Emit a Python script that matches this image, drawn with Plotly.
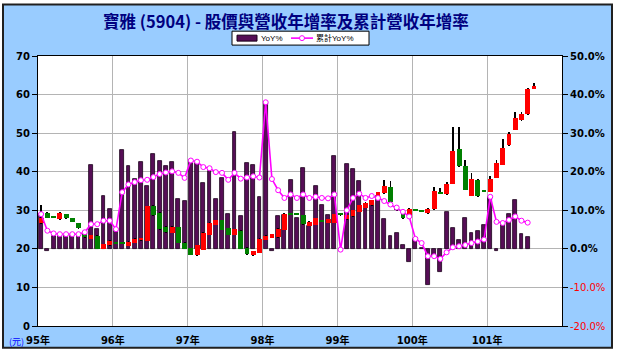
import plotly.graph_objects as go

# ---------------- data ----------------
years = ["95年", "96年", "97年", "98年", "99年", "100年", "101年"]
year_starts = [0, 12, 24, 36, 48, 60, 72]

# monthly revenue YoY (%), 95/01 .. 101/07
yoy = [9.0, -0.5, 3.3, 3.5, 3.5, 3.3, 3.6, 4.0, 21.8, 5.1, 13.7, 10.3,
       5.1, 25.6, 21.4, 18.1, 22.6, 16.4, 24.6, 22.8, 21.4, 22.4, 12.8, 12.3,
       23.1, 22.2, 17.1, 20.3, 13.0, 18.5, 9.0, 30.3, 8.5, 22.2, 21.8, 13.5,
       37.8, -0.5, 8.5, 8.7, 17.9, 7.9, 20.9, 6.0, 16.4, 11.5, 8.7, 24.1,
       -0.2, 22.0, 20.7, 17.5, 11.5, 11.8, 13.7, 7.7, 3.4, 4.1, 1.0, -3.4,
       2.6, 0.2, -9.4, -2.2, -6.0, 9.5, 5.5, 2.2, 7.9, 4.1, 4.7, 6.1,
       13.5, -0.5, 6.5, 9.0, 12.6, 3.8, 3.1]

# cumulative revenue YoY (%)
cum_yoy = [9.0, 4.7, 4.0, 3.8, 3.8, 3.8, 3.8, 4.3, 6.4, 6.4, 7.3, 7.3,
           5.1, 14.7, 16.7, 17.3, 17.8, 17.9, 18.6, 19.4, 19.8, 20.1, 19.7, 18.4,
           22.9, 22.6, 21.2, 20.9, 19.9, 19.7, 17.9, 19.7, 18.2, 18.5, 18.8, 18.5,
           38.0, 18.1, 15.2, 13.2, 14.1, 13.2, 14.1, 13.2, 13.5, 13.2, 13.1, 14.1,
           -0.2, 10.0, 13.2, 14.3, 13.2, 13.7, 13.2, 12.4, 11.5, 10.7, 9.6, 8.4,
           2.6, 1.5, -1.9, -1.9, -2.6, -0.9, 0.4, 0.7, 1.0, 1.5, 1.9, 2.4,
           13.5, 7.0, 6.7, 7.5, 8.4, 7.3, 6.8]

# monthly stock price (元), 95/01 .. 101/08
opens = [26.8, 29.4, 28.2, 27.7, 29.0, 27.9, 26.7, 23.8, 22.6, 23.4, 20.0, 20.9,
         21.6, 21.6, 20.8, 21.5, 22.2, 22.1, 31.0, 29.4, 25.6, 24.1, 25.6, 21.6,
         20.2, 18.3, 19.8, 23.6, 26.2, 27.5, 25.4, 23.6, 24.7, 20.3, 18.3, 19.0,
         22.4, 22.9, 23.0, 25.0, 29.1, 29.0, 28.7, 26.0, 26.2, 27.4, 26.7, 26.7,
         29.0, 27.7, 28.4, 29.6, 30.7, 31.3, 32.8, 34.4, 36.0, 30.3, 29.2, 27.9,
         30.1, 29.9, 29.2, 30.3, 34.7, 34.1, 36.8, 45.8, 41.4, 33.8, 37.9, 35.1,
         34.8, 38.4, 41.8, 46.8, 50.8, 53.3, 54.9, 61.5]
highs = [31.5, 29.6, 28.6, 29.5, 29.1, 28.0, 26.8, 23.9, 23.7, 23.5, 21.3, 22.2,
         21.7, 21.7, 22.0, 22.7, 22.9, 31.2, 31.3, 29.6, 25.8, 25.8, 25.7, 21.7,
         20.3, 21.0, 24.3, 26.9, 27.6, 27.6, 25.5, 25.2, 24.8, 20.4, 19.5, 22.7,
         23.5, 23.9, 25.3, 29.4, 29.4, 29.2, 28.8, 27.1, 28.0, 27.5, 27.8, 29.1,
         29.2, 28.8, 30.1, 31.4, 32.1, 32.7, 34.8, 37.9, 37.5, 30.4, 29.3, 30.5,
         30.2, 30.0, 30.5, 36.0, 35.8, 37.3, 51.6, 51.6, 43.1, 39.7, 38.1, 35.3,
         38.8, 43.1, 48.4, 50.2, 55.6, 55.5, 61.6, 63.0]
lows = [26.5, 28.0, 28.0, 27.6, 27.8, 26.9, 25.2, 22.9, 22.5, 19.9, 19.9, 20.8,
        21.3, 21.4, 20.7, 21.4, 22.1, 22.0, 28.6, 25.0, 24.2, 24.0, 21.4, 19.9,
        18.4, 18.2, 19.7, 23.5, 26.1, 24.9, 23.6, 23.5, 19.9, 18.5, 18.2, 18.9,
        22.3, 22.8, 22.9, 24.9, 28.8, 28.8, 26.3, 25.9, 26.1, 27.1, 26.6, 26.6,
        28.7, 27.6, 28.3, 29.5, 30.6, 31.2, 32.7, 34.3, 32.0, 30.0, 27.8, 27.8,
        29.9, 29.7, 29.1, 30.2, 34.3, 34.0, 36.7, 41.3, 35.2, 33.7, 33.5, 34.8,
        34.7, 38.3, 41.7, 46.7, 50.7, 53.2, 54.8, 61.4]
closes = [28.1, 28.1, 28.1, 29.4, 27.9, 27.0, 25.3, 23.0, 23.6, 20.0, 21.2, 22.1,
          21.4, 21.5, 21.9, 22.6, 22.8, 31.1, 28.7, 25.1, 24.3, 25.7, 21.5, 20.0,
          18.5, 20.9, 24.2, 26.8, 27.5, 25.0, 23.7, 25.1, 20.0, 18.6, 19.4, 22.6,
          23.4, 23.8, 25.2, 29.0, 28.9, 28.9, 26.4, 27.0, 27.9, 27.2, 27.7, 29.0,
          28.8, 28.7, 30.0, 31.3, 32.0, 32.6, 34.7, 36.2, 32.1, 30.1, 27.9, 30.4,
          30.0, 29.8, 30.4, 35.0, 34.4, 36.9, 45.3, 41.4, 35.3, 38.1, 33.6, 34.9,
          38.1, 42.2, 46.1, 49.8, 53.8, 54.9, 61.5, 62.3]

legend_names = ["YoY%", "累計YoY%"]

# ---------------- geometry helpers ----------------
W, H = 622, 358
ML, MR, MT, MB = 38, 60, 56, 30
PW, PH = W - ML - MR, H - MT - MB


def px_x(p):
    return (p - ML) / PW


def px_y(p):
    return (H - MB - p) / PH


UP, DOWN = "#FF0000", "#008000"
BAR_FILL, BAR_EDGE = "#560E56", "#1A001A"
LINE_COL = "#FF00FF"

x_yoy = [i + 0.5 for i in range(len(yoy))]
x_cum = [i + 0.5 for i in range(len(cum_yoy))]
x_px = [i + 0.5 for i in range(len(opens))]

body_base = [min(o, c) for o, c in zip(opens, closes)]
body_h = [max(abs(c - o), 0.3) for o, c in zip(opens, closes)]
body_col = [UP if c > o else DOWN for o, c in zip(opens, closes)]
wick_h = [h - l for h, l in zip(highs, lows)]

fig = go.Figure()

# YoY bars (right % axis, bottom layer)
fig.add_trace(go.Bar(
    x=x_yoy, y=yoy, yaxis="y", name=legend_names[0], width=0.62,
    marker=dict(color=BAR_FILL, line=dict(color=BAR_EDGE, width=0.8)),
    showlegend=False,
))

# candlesticks drawn as wick + body bars on the price axis
fig.add_trace(go.Bar(
    x=x_px, y=wick_h, base=lows, yaxis="y2", width=0.14,
    marker=dict(color="#000000", line=dict(width=0)), showlegend=False,
))
fig.add_trace(go.Bar(
    x=x_px, y=body_h, base=body_base, yaxis="y2", width=0.78,
    marker=dict(color=body_col, line=dict(width=0)), showlegend=False,
))

# cumulative YoY line (top layer)
fig.add_trace(go.Scatter(
    x=x_cum, y=cum_yoy, yaxis="y3", name=legend_names[1], mode="lines+markers",
    line=dict(color=LINE_COL, width=1.6),
    marker=dict(symbol="circle", size=5, color="white",
                line=dict(color=LINE_COL, width=1)),
    showlegend=False,
))

tick_font = dict(family="DejaVu Sans, Noto Sans CJK TC", size=10, color="black")
pct_vals = [-20, -10, 0, 10, 20, 30, 40, 50]
pct_text = []
for v in pct_vals:
    if v < 0:
        pct_text.append("<span style='color:#FF0000'>%.1f%%</span>" % v)
    else:
        pct_text.append("<b>%.1f%%</b>" % v)

fig.update_layout(
    width=W, height=H,
    margin=dict(l=ML, r=MR, t=MT, b=MB, pad=0),
    paper_bgcolor="#99CCFF",
    plot_bgcolor="white",
    barmode="overlay",
    bargap=0,
    showlegend=False,
    xaxis=dict(
        range=[0, 84], tickmode="array", tickvals=year_starts,
        ticktext=["<b>%s</b>" % y for y in years],
        showgrid=True, gridcolor="#B4B4B4", gridwidth=1,
        showline=True, linecolor="black", linewidth=1, mirror=True,
        zeroline=False, ticks="", tickfont=tick_font, ticklabelstandoff=5,
    ),
    yaxis=dict(
        range=[-20, 50], side="right", tickmode="array", tickvals=pct_vals,
        ticktext=pct_text, showgrid=False, zeroline=False,
        ticks="outside", ticklen=5, tickcolor="black", tickfont=tick_font,
    ),
    yaxis2=dict(
        range=[0, 70], side="left", overlaying="y", tickmode="array",
        tickvals=[0, 10, 20, 30, 40, 50, 60, 70],
        ticktext=["<b>%d</b>" % v for v in [0, 10, 20, 30, 40, 50, 60, 70]],
        showgrid=True, gridcolor="#B4B4B4", gridwidth=1, zeroline=False,
        showline=True, linecolor="black", linewidth=1, mirror=True,
        ticks="outside", ticklen=5, tickcolor="black", tickfont=tick_font,
    ),
    yaxis3=dict(range=[-20, 50], overlaying="y", visible=False),
)

fig.add_annotation(
    text="<b>寶雅 (5904) - 股價與營收年增率及累計營收年增率</b>",
    xref="paper", yref="paper", x=px_x(286), y=px_y(21),
    xanchor="center", yanchor="middle", showarrow=False,
    font=dict(family="Noto Sans CJK TC", size=16.5, color="#000080"),
)
fig.add_annotation(
    text="(元)", xref="paper", yref="paper", x=px_x(25), y=px_y(344),
    xanchor="right", yanchor="middle", showarrow=False, borderpad=0,
    font=dict(family="Noto Sans CJK TC", size=9, color="#0000FF"),
)

# ---- legend box (drawn by hand so it is as compact as the original) ----
def rect(x0, x1, y0, y1, **kw):
    fig.add_shape(type="rect", xref="paper", yref="paper",
                  x0=px_x(x0), x1=px_x(x1), y0=px_y(y1), y1=px_y(y0),
                  layer="above", **kw)


rect(232, 369, 31, 45, fillcolor="white", line=dict(color="black", width=1))
rect(237, 257, 35, 41, fillcolor=BAR_FILL, line=dict(color=BAR_EDGE, width=1))
fig.add_shape(type="line", xref="paper", yref="paper",
              x0=px_x(291), x1=px_x(313), y0=px_y(38), y1=px_y(38),
              line=dict(color=LINE_COL, width=1.6), layer="above")
fig.add_shape(type="circle", xref="paper", yref="paper",
              x0=px_x(299.5), x1=px_x(304.5), y0=px_y(40.5), y1=px_y(35.5),
              fillcolor="white", line=dict(color=LINE_COL, width=1), layer="above")
for txt, xl in [(legend_names[0], 260), (legend_names[1], 315)]:
    fig.add_annotation(text=txt, xref="paper", yref="paper",
                       x=px_x(xl), y=px_y(38), xanchor="left", yanchor="middle",
                       showarrow=False, borderpad=0,
                       font=dict(family="Liberation Sans, Noto Sans CJK TC",
                                 size=8, color="black"))

# white page margin outside the outer frame, and the frame itself
fl, fr, ft, fb = 3, 612, 4, 350
for x0, x1, y0, y1 in [(-5, fl, -5, H + 5), (fr, W + 5, -5, H + 5),
                       (-5, W + 5, -5, ft), (-5, W + 5, fb, H + 5)]:
    rect(x0, x1, y0, y1, fillcolor="white", line=dict(width=0))
rect(fl, fr, ft, fb, line=dict(color="#202020", width=2),
     fillcolor="rgba(0,0,0,0)")

fig.write_html("out.html")
